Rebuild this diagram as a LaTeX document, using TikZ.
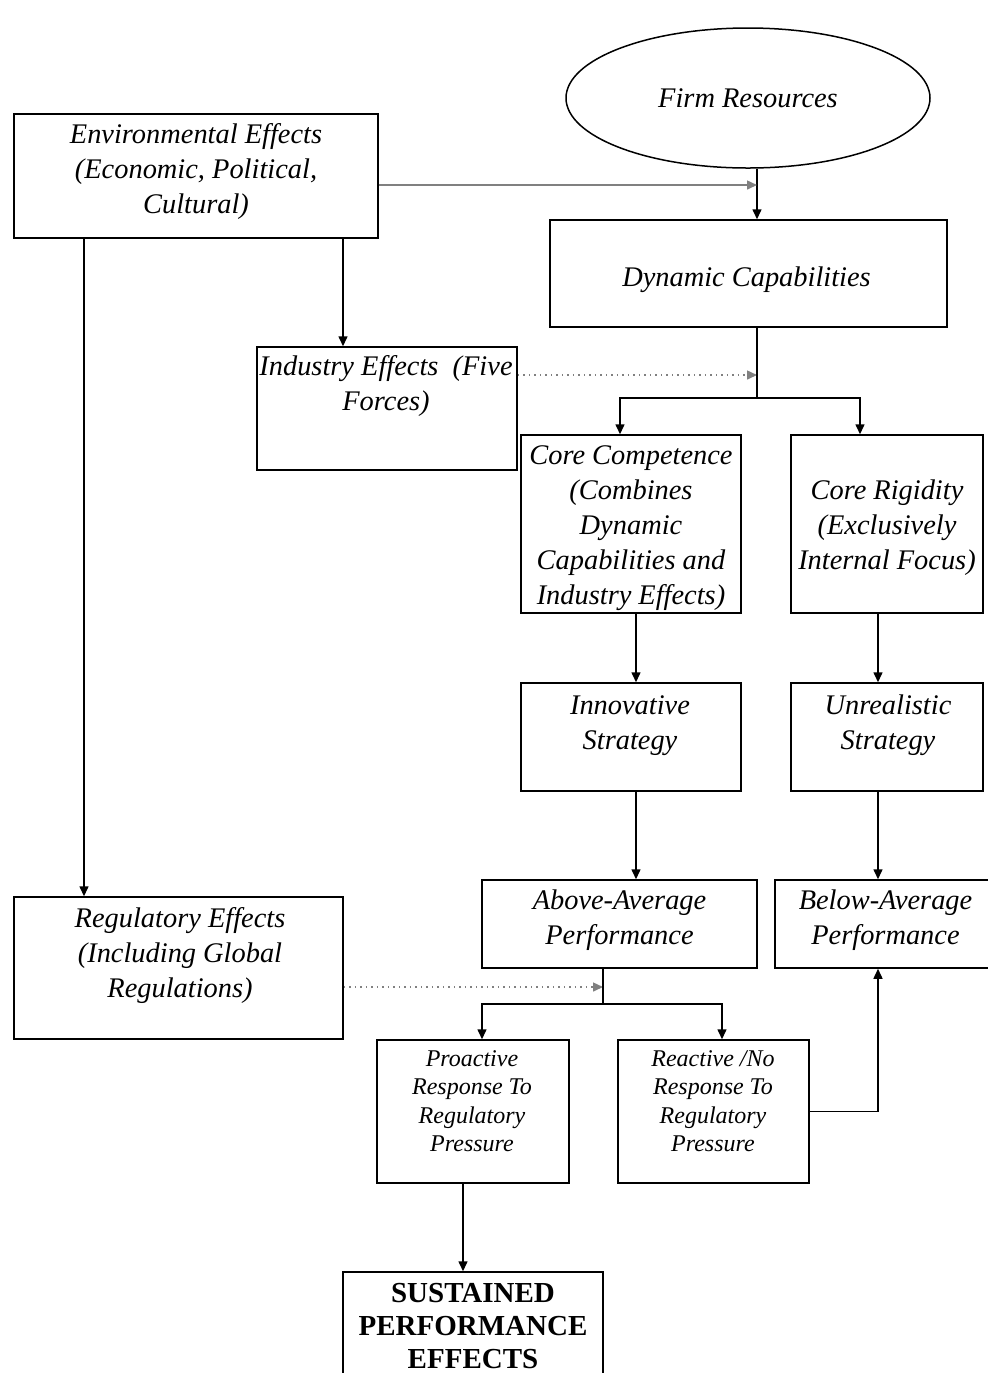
\documentclass[tikz,border=0pt]{standalone}
\usepackage{fontspec}
\setmainfont{Liberation Serif}
\usetikzlibrary{arrows.meta,shapes.geometric,calc}
\begin{document}
\begin{tikzpicture}[x=0.5pt, y=-0.5pt,
    box/.style={draw, line width=0.75pt, rectangle, inner sep=0pt, align=center, font=\itshape\fontsize{14.2}{17.5}\selectfont},
    txt/.style={inner sep=0pt, align=center, font=\itshape\fontsize{14.2}{17.5}\selectfont},
    smalltxt/.style={inner sep=0pt, align=center, font=\itshape\fontsize{12}{14.25}\selectfont},
    arr/.style={line width=0.75pt, -{Triangle[length=5pt, width=4.5pt]}},
    link/.style={line width=0.75pt},
    dots/.style={arr, dotted, draw=gray}]
    \useasboundingbox (0,0) rectangle (988,1373);
    \clip (0,0) rectangle (988,1373);

    % Top: firm resources and environment
    \node[draw, ellipse, line width=0.75pt, inner sep=0pt, minimum width=182pt, minimum height=70pt, font=\itshape\fontsize{14.2}{17.5}\selectfont] (firm) at (748,98) {Firm Resources};
    \node[box, minimum width=182pt, minimum height=62pt] (env) at (196,176) {};
    \node[txt] (env-t) at (196,172) {Environmental Effects\\(Economic, Political,\\Cultural)};
    \node[box, minimum width=198.5pt, minimum height=53.5pt] (dyn) at (748.5,273.5) {};
    \node[txt] (dyn-t) at (746.5,279.5) {Dynamic Capabilities};
    \node[box, minimum width=130pt, minimum height=61.5pt] (ind) at (387,408.5) {};
    \node[txt] (ind-t) at (386,386) {Industry Effects \ (Five\\Forces)};

    % Middle: competence vs rigidity
    \node[box, minimum width=110pt, minimum height=89pt] (comp) at (631,524) {};
    \node[txt] (comp-t) at (631,528) {Core Competence\\(Combines\\Dynamic\\Capabilities and\\Industry Effects)};
    \node[box, minimum width=96pt, minimum height=89pt] (rig) at (887,524) {};
    \node[txt] (rig-t) at (887,528) {Core Rigidity\\(Exclusively\\Internal Focus)};
    \node[box, minimum width=110pt, minimum height=54pt] (innov) at (631,737) {};
    \node[txt] (innov-t) at (630,726) {Innovative\\Strategy};
    \node[box, minimum width=96pt, minimum height=54pt] (unreal) at (887,737) {};
    \node[txt] (unreal-t) at (888,725) {Unrealistic\\Strategy};
    \node[box, minimum width=137.5pt, minimum height=44pt] (above) at (619.5,924) {};
    \node[txt] (above-t) at (619.5,920) {Above-Average\\Performance};
    \node[box, minimum width=109.5pt, minimum height=44pt] (below) at (884.5,924) {};
    \node[txt] (below-t) at (885.5,920) {Below-Average\\Performance};

    % Bottom: regulation and responses
    \node[box, minimum width=164.5pt, minimum height=71pt] (reg) at (178.5,968) {};
    \node[txt] (reg-t) at (180,956) {Regulatory Effects\\(Including Global\\Regulations)};
    \node[box, minimum width=96pt, minimum height=71.5pt] (pro) at (473,1111.5) {};
    \node[smalltxt] (pro-t) at (472,1101) {Proactive\\Response To\\Regulatory\\Pressure};
    \node[box, minimum width=95.5pt, minimum height=71.5pt] (react) at (713.5,1111.5) {};
    \node[smalltxt] (react-t) at (713,1101) {Reactive /No\\Response To\\Regulatory\\Pressure};
    \node[box, minimum width=130pt, minimum height=54pt, font=\bfseries\fontsize{14.5}{16.5}\selectfont] (sust) at (473,1326) {SUSTAINED\\PERFORMANCE\\EFFECTS};

    % junctions
    \coordinate (spine) at (757,185);
    \coordinate (indin) at (757,375);
    \coordinate (split1) at (757,398);
    \coordinate (envind) at (343,238);
    \coordinate (envreg) at (84,238);
    \coordinate (regin) at (603,987);
    \coordinate (split2) at (603,1004);

    % connectors
    \draw[arr] (firm.south -| spine) -- (dyn.north -| spine);
    \draw[arr, draw=gray] (env.east |- spine) -- (spine);
    \draw[arr] (env.south -| envind) -- (ind.north -| envind);
    \draw[arr] (env.south -| envreg) -- (reg.north -| envreg);
    \draw[dots] (ind.east |- indin) -- (indin);
    \draw[link] (dyn.south -| split1) -- (split1);
    \draw[arr] (split1) -| ([xshift=-5.5pt]comp.north);
    \draw[arr] (split1) -| ([xshift=-13.5pt]rig.north);
    \draw[arr] ([xshift=2.5pt]comp.south) -- ([xshift=2.5pt]innov.north);
    \draw[arr] ([xshift=-4.5pt]rig.south) -- ([xshift=-4.5pt]unreal.north);
    \draw[arr] ([xshift=2.5pt]innov.south) -- ([xshift=2.5pt]innov.south |- above.north);
    \draw[arr] ([xshift=-4.5pt]unreal.south) -- ([xshift=-4.5pt]unreal.south |- below.north);
    \draw[dots] (reg.east |- regin) -- (regin);
    \draw[link] (above.south -| split2) -- (split2);
    \draw[arr] (split2) -| ([xshift=4.5pt]pro.north);
    \draw[arr] (split2) -| ([xshift=4.25pt]react.north);
    \draw[arr] (react.east) -| ([xshift=-3.25pt]below.south);
    \draw[arr] ([xshift=-5pt]pro.south) -- ([xshift=-5pt]sust.north);
\end{tikzpicture}
\end{document}
